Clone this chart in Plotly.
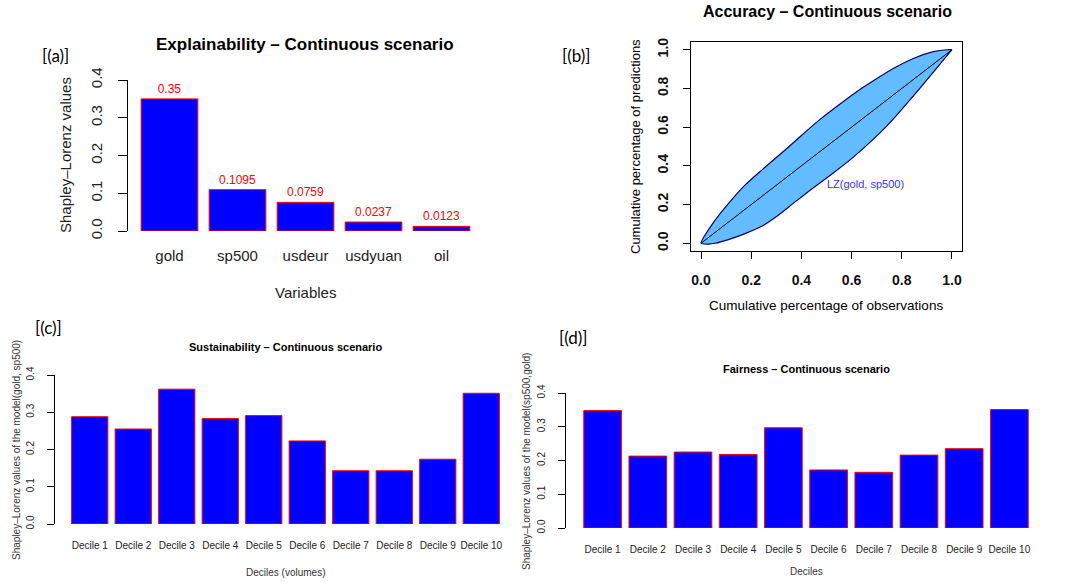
import plotly.graph_objects as go

W, H = 1068, 582

# ---------------- data ----------------
vars_a = ["gold", "sp500", "usdeur", "usdyuan", "oil"]
vals_a = [0.35, 0.1095, 0.0759, 0.0237, 0.0123]
labels_a = ["0.35", "0.1095", "0.0759", "0.0237", "0.0123"]

lz_upper_x = [0, 0.056, 0.109, 0.175, 0.242, 0.335, 0.394, 0.474, 0.554, 0.633, 0.687, 0.766, 0.846, 0.926, 0.979, 1.0]
lz_upper_y = [0, 0.119, 0.205, 0.300, 0.378, 0.482, 0.550, 0.640, 0.720, 0.795, 0.840, 0.903, 0.955, 0.990, 1.0, 1.0]
lz_lower_x = [0, 0.03, 0.056, 0.109, 0.175, 0.242, 0.308, 0.375, 0.441, 0.514, 0.607, 0.74, 0.872, 1.0]
lz_lower_y = [0, -0.004, 0.0, 0.019, 0.05, 0.088, 0.145, 0.214, 0.28, 0.35, 0.445, 0.605, 0.80, 1.0]
diag = [0, 1]

deciles = ["Decile 1", "Decile 2", "Decile 3", "Decile 4", "Decile 5",
           "Decile 6", "Decile 7", "Decile 8", "Decile 9", "Decile 10"]
vals_c = [0.288, 0.255, 0.362, 0.283, 0.291, 0.223, 0.143, 0.143, 0.174, 0.351]
vals_d = [0.348, 0.213, 0.225, 0.218, 0.297, 0.172, 0.165, 0.216, 0.235, 0.351]

ticks_04 = [0, 0.1, 0.2, 0.3, 0.4]
ticks_04_txt = ["0.0", "0.1", "0.2", "0.3", "0.4"]
ticks_01 = [0, 0.2, 0.4, 0.6, 0.8, 1.0]
ticks_01_txt = ["0.0", "0.2", "0.4", "0.6", "0.8", "1.0"]

FONT = "Liberation Sans, Arial, Helvetica, sans-serif"
BLUE = "#0000FF"
RED = "#FF0000"


def X(px):
    return px / W


def Y(py):
    return 1 - py / H


fig = go.Figure()

bar_style = dict(marker=dict(color=BLUE, line=dict(color=RED, width=1)), showlegend=False)

# (a)
fig.add_trace(go.Bar(x=vars_a, y=vals_a, text=labels_a, textposition="outside",
                     textfont=dict(color=RED, size=12, family=FONT), cliponaxis=False,
                     xaxis="x", yaxis="y", **bar_style))

# (b)
fig.add_trace(go.Scatter(x=lz_upper_x + lz_lower_x[::-1], y=lz_upper_y + lz_lower_y[::-1],
                         mode="lines", fill="toself", fillcolor="#63BCFF",
                         line=dict(color="#000060", width=1.2, shape="spline", smoothing=0.6),
                         xaxis="x2", yaxis="y2", showlegend=False, hoverinfo="skip"))
fig.add_trace(go.Scatter(x=diag, y=diag, mode="lines", line=dict(color="black", width=1),
                         xaxis="x2", yaxis="y2", showlegend=False))

# (c)
fig.add_trace(go.Bar(x=deciles, y=vals_c, xaxis="x3", yaxis="y3", **bar_style))
# (d)
fig.add_trace(go.Bar(x=deciles, y=vals_d, xaxis="x4", yaxis="y4", **bar_style))


def yax(dom, size, standoff, ticklen=7):
    return dict(domain=dom, range=[0, 0.4], tickvals=ticks_04, ticktext=ticks_04_txt,
                tickangle=-90, ticks="outside", ticklen=ticklen, tickcolor="black",
                showline=True, linecolor="black", linewidth=1, showgrid=False, zeroline=False,
                tickfont=dict(size=size, family=FONT, color="#222"), automargin=False,
                ticklabelstandoff=standoff, fixedrange=True)


def xcat(dom, rng, size, standoff):
    return dict(domain=dom, range=rng, type="category", showline=False, ticks="",
                showgrid=False, zeroline=False, tickangle=0, automargin=False,
                tickfont=dict(size=size, family=FONT, color="#222"),
                ticklabelstandoff=standoff, fixedrange=True)


layout = dict(
    width=W, height=H, autosize=False,
    margin=dict(l=0, r=0, t=0, b=0, pad=0, autoexpand=False),
    paper_bgcolor="white", plot_bgcolor="white",
    bargap=1 / 6,
    font=dict(family=FONT, color="black"),
    # (a)
    xaxis=dict(**xcat([X(128), X(483)], [-0.61, 4.61], 15, 14), anchor="y"),
    yaxis=dict(**yax([Y(231), Y(80)], 15, 10, ticklen=9), anchor="x"),
    # (b)
    xaxis2=dict(domain=[X(691), X(962)], range=[-0.04, 1.04], tickvals=ticks_01,
                ticktext=ticks_01_txt, ticks="outside", ticklen=7, tickcolor="black",
                showline=True, mirror=True, linecolor="black", linewidth=1,
                showgrid=False, zeroline=False, anchor="y2", automargin=False,
                tickfont=dict(size=14, family=FONT, color="#111", weight="bold"),
                ticklabelstandoff=9, fixedrange=True),
    yaxis2=dict(domain=[Y(251), Y(42)], range=[-0.04, 1.04], tickvals=ticks_01,
                ticktext=ticks_01_txt, tickangle=-90, ticks="outside", ticklen=7,
                tickcolor="black", showline=True, mirror=True, linecolor="black",
                linewidth=1, showgrid=False, zeroline=False, anchor="x2", automargin=False,
                tickfont=dict(size=14, family=FONT, color="#111", weight="bold"),
                ticklabelstandoff=9, fixedrange=True),
    # (c)
    xaxis3=dict(**xcat([X(54.5), X(516.5)], [-0.81, 9.81], 10, 14), anchor="y3"),
    yaxis3=dict(**yax([Y(524), Y(375)], 10, 9), anchor="x3"),
    # (d)
    xaxis4=dict(**xcat([X(566), X(1046)], [-0.81, 9.81], 10, 14), anchor="y4"),
    yaxis4=dict(**yax([Y(528), Y(393)], 10, 9), anchor="x4"),
)

fig.update_layout(**layout)


def ann(text, px, py, size, bold=False, color="black", angle=0, family=FONT):
    fig.add_annotation(text=text, x=X(px), y=Y(py), xref="paper", yref="paper",
                       showarrow=False, textangle=angle, xanchor="center", yanchor="middle",
                       font=dict(size=size, color=color, family=family,
                                 weight="bold" if bold else "normal"))


PANEL_FONT = "Lato, Open Sans, sans-serif"
# panel tags
ann("[(a)]", 55, 55, 17, family=PANEL_FONT)
ann("[(b)]", 576, 56, 17, family=PANEL_FONT)
ann("[(c)]", 48, 327, 17, family=PANEL_FONT)
ann("[(d)]", 573, 337, 17, family=PANEL_FONT)

# (a)
ann("Explainability – Continuous scenario", 305, 45, 17, bold=True)
ann("Variables", 305, 292, 15, color="#222")
ann("Shapley–Lorenz values", 66, 155, 15, angle=-90, color="#222")

# (b)
ann("Accuracy – Continuous scenario", 827, 11, 16, bold=True)
ann("Cumulative percentage of observations", 826, 305, 13.5)
ann("Cumulative percentage of predictions", 635, 147, 13, angle=-90)
fig.add_annotation(text="LZ(gold, sp500)", x=0.657, y=0.306, xref="x2", yref="y2",
                   showarrow=False, font=dict(size=11, color="#3333FF", family=FONT))

# (c)
ann("Sustainability – Continuous scenario", 285, 347, 11, bold=True)
ann("Deciles (volumes)", 285, 572, 10, color="#333")
ann("Shapley–Lorenz values of the model(gold, sp500)", 16, 450, 10, angle=-90, color="#333")

# (d)
ann("Fairness – Continuous scenario", 806, 369, 11, bold=True)
ann("Deciles", 806, 571, 10, color="#333")
ann("Shapley–Lorenz values of the model(sp500,gold)", 526, 462, 10, angle=-90, color="#333")

fig.write_html("out.html", config={"displayModeBar": False},
               post_script="document.body.style.margin='0';document.body.style.overflow='hidden';")
